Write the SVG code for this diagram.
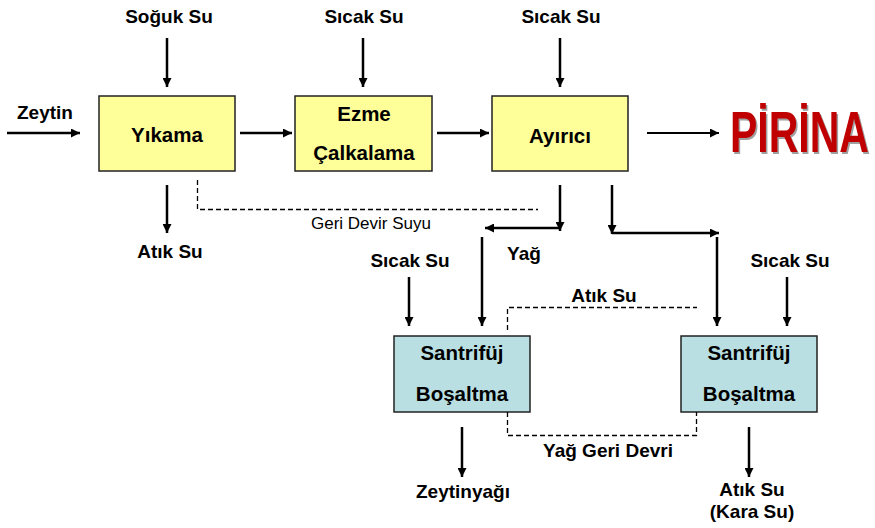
<svg xmlns="http://www.w3.org/2000/svg" width="875" height="528" viewBox="0 0 875 528">
<style>
text{font-family:"Liberation Sans",Arial,sans-serif;fill:#000}
.lb{font-weight:bold;font-size:19px;text-anchor:middle}
.bx{font-weight:bold;font-size:20.5px;text-anchor:middle}
.rg{font-size:17px;text-anchor:middle}
.yel{fill:#FFFF99;stroke:#222;stroke-width:1.5}
.blu{fill:#B9DFE2;stroke:#222;stroke-width:1.5}
.ar{stroke:#000;stroke-width:2.5;fill:none;marker-end:url(#ah)}
.ds{stroke:#000;stroke-width:1.3;fill:none;stroke-dasharray:5 3}
.pr{font-weight:bold;font-size:41px}
</style>
<defs>
<marker id="ah" viewBox="0 0 10 10" refX="10" refY="5" markerWidth="9" markerHeight="9" markerUnits="userSpaceOnUse" orient="auto">
<path d="M0,0 L10,5 L0,10 z" fill="#000"/>
</marker>
</defs>

<g id="yikama"><rect class="yel" x="99" y="96" width="136" height="75"/><text class="bx" x="167" y="142">Yıkama</text></g>
<g id="ezme"><rect class="yel" x="295" y="96" width="137" height="75"/><text class="bx" x="364" y="121">Ezme</text><text class="bx" x="364" y="160">Çalkalama</text></g>
<g id="ayirici"><rect class="yel" x="492" y="96" width="136" height="75"/><text class="bx" x="560" y="143">Ayırıcı</text></g>
<g id="santrifuj1"><rect class="blu" x="394" y="336" width="136" height="76"/><text class="bx" x="462" y="360">Santrifüj</text><text class="bx" x="462" y="401">Boşaltma</text></g>
<g id="santrifuj2"><rect class="blu" x="681" y="336" width="136" height="76"/><text class="bx" x="749" y="360">Santrifüj</text><text class="bx" x="749" y="401">Boşaltma</text></g>
<g id="pirina"><text class="pr" transform="translate(731.5,153.5) scale(1,1.38)" style="fill:#a0a0a0">PİRİNA</text><text class="pr" transform="translate(730,152) scale(1,1.38)" style="fill:#C00000">PİRİNA</text></g>

<g id="labels">
<text class="lb" x="169" y="23">Soğuk Su</text>
<text class="lb" x="364" y="23">Sıcak Su</text>
<text class="lb" x="561" y="23">Sıcak Su</text>
<text class="lb" x="45" y="119">Zeytin</text>
<text class="lb" x="170" y="258">Atık Su</text>
<text class="rg" x="371" y="229">Geri Devir Suyu</text>
<text class="lb" x="524" y="260">Yağ</text>
<text class="lb" x="410" y="267">Sıcak Su</text>
<text class="lb" x="790" y="267">Sıcak Su</text>
<text class="lb" x="604" y="302">Atık Su</text>
<text class="lb" x="608" y="457">Yağ Geri Devri</text>
<text class="lb" x="463" y="498">Zeytinyağı</text>
<text class="lb" x="752" y="496">Atık Su</text>
<text class="lb" x="752" y="518">(Kara Su)</text>
</g>

<g id="connectors">
<line class="ar" x1="167" y1="38" x2="167" y2="87"/>
<line class="ar" x1="363" y1="38" x2="363" y2="87"/>
<line class="ar" x1="560" y1="38" x2="560" y2="87"/>
<line class="ar" x1="7" y1="133" x2="80" y2="133"/>
<line class="ar" x1="240" y1="133" x2="292" y2="133"/>
<line class="ar" x1="437" y1="133" x2="489" y2="133"/>
<line class="ar" x1="647" y1="133" x2="719" y2="133" style="stroke-width:2"/>
<line class="ar" x1="167" y1="185" x2="167" y2="233"/>
<polyline class="ds" points="197.5,180 197.5,209.5 538,209.5"/>
<line class="ar" x1="560" y1="185" x2="560" y2="231"/>
<line class="ar" x1="560" y1="228" x2="485" y2="228"/>
<line class="ar" x1="482" y1="237" x2="482" y2="326"/>
<line class="ar" x1="612" y1="185" x2="612" y2="234"/>
<line class="ar" x1="612" y1="233" x2="719" y2="233"/>
<line class="ar" x1="717" y1="237" x2="717" y2="326"/>
<line class="ar" x1="409" y1="277" x2="409" y2="326"/>
<line class="ar" x1="787" y1="277" x2="787" y2="326"/>
<polyline class="ds" points="507.5,330 507.5,307.5 697,307.5"/>
<polyline class="ds" points="507.5,412 507.5,435.5 696.5,435.5 696.5,412"/>
<line class="ar" x1="462" y1="427" x2="462" y2="477"/>
<line class="ar" x1="749" y1="427" x2="749" y2="477"/>
</g>
</svg>
